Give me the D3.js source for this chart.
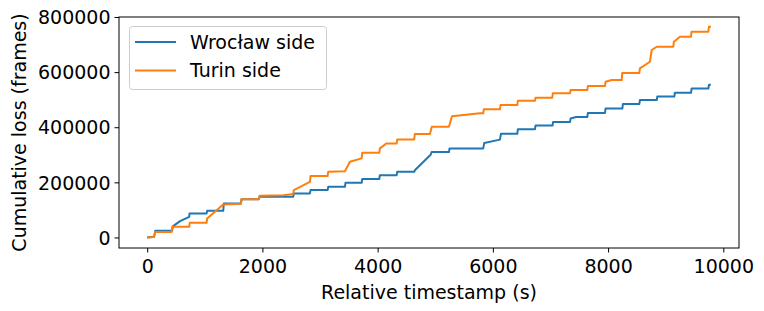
<!DOCTYPE html>
<html>
<head>
<meta charset="utf-8">
<script src="https://cdn.jsdelivr.net/npm/d3@7"></script>
<style>
    body { margin: 0; background: #fff; }
    text { font-family: "DejaVu Sans", sans-serif; fill: #000; }
</style>
</head>
<body>
<svg id="chart" width="764" height="311"></svg>
<script>
"use strict";
// values (vertices of the cumulative curves)
var wroclawT = [0, 120, 140, 430, 450, 571, 729, 735, 1031, 1040, 1320, 1330, 1627, 1637, 1939, 1950,
    2535, 2545, 2825, 2835, 3132, 3142, 3432, 3442, 3722, 3732, 4028, 4038, 4330, 4340, 4635, 4650,
    4920, 4937, 5238, 5248, 5833, 5850, 6123, 6140, 6424, 6434, 6731, 6741, 7035, 7045, 7339, 7350,
    7443, 7639, 7649, 7946, 7956, 8247, 8257, 8542, 8552, 8844, 8854, 9149, 9159, 9439, 9449, 9740,
    9750, 9783];
var wroclawV = [0, 3000, 24000, 24000, 41000, 59200, 74800, 87100, 87100, 96600, 96600, 123500, 123500,
    139000, 139000, 147400, 147400, 159800, 159800, 171800, 171800, 183700, 183700, 198300, 198300,
    211700, 211700, 226200, 226200, 238200, 238200, 245000, 300000, 310000, 310000, 323200, 323200,
    343000, 355000, 376000, 376000, 393000, 393000, 406000, 406000, 419000, 419000, 432000, 437000,
    437000, 452000, 452000, 467700, 467700, 484000, 484000, 498600, 498600, 511300, 511300, 525000,
    525000, 540300, 540300, 553000, 555000];
var turinT = [0, 120, 140, 424, 434, 729, 739, 1031, 1041, 1205, 1320, 1627, 1637, 1939, 1950, 2361, 2535,
    2545, 2825, 2835, 3132, 3142, 3432, 3519, 3722, 3732, 4028, 4040, 4150, 4330, 4340, 4635, 4645,
    4908, 4940, 5238, 5290, 5776, 5833, 5843, 6123, 6133, 6424, 6434, 6731, 6741, 7031, 7041, 7339,
    7349, 7639, 7649, 7946, 7956, 8063, 8236, 8246, 8542, 8552, 8727, 8757, 8844, 9132, 9142, 9248,
    9439, 9449, 9740, 9750, 9786];
var turinV = [0, 2000, 20000, 20000, 38500, 38500, 53000, 53000, 69000, 99100, 119800, 122000, 139000, 139000,
    151000, 153600, 158000, 171800, 201900, 222600, 222600, 238200, 240000, 274500, 286900, 307200,
    307200, 323200, 341000, 341300, 355800, 355800, 375100, 375100, 401600, 401600, 440000, 450300,
    450300, 464800, 464800, 480400, 480400, 496000, 496000, 507000, 507000, 523000, 523000, 534900,
    534900, 549400, 549400, 565000, 571200, 571200, 597000, 597000, 613700, 637700, 680200, 692100,
    692100, 710300, 728500, 728500, 746600, 746600, 764800, 764800];
var seriesNames = ["Wrocław side", "Turin side"];
var seriesColors = ["#1f77b4", "#ff7f0e"];
var xTicks = [0, 2000, 4000, 6000, 8000, 10000];
var yTicks = [0, 200000, 400000, 600000, 800000];

function zipPoints(ts, vs) {
    return ts.map(function (t, i) { return [t, vs[i]]; });
}

var svg = d3.select("#chart");
var plotLeft = 119, plotTop = 17, plotRight = 739, plotBottom = 248;
var tMax = 9783, vMax = 764800;

var x = d3.scaleLinear().domain([-0.05 * tMax, 1.05 * tMax]).range([plotLeft, plotRight]);
var y = d3.scaleLinear().domain([-0.05 * vMax, 800000]).range([plotBottom, plotTop]);

var xAxis = svg.append("g")
    .attr("transform", "translate(0," + plotBottom + ")")
    .call(d3.axisBottom(x).tickValues(xTicks).tickFormat(d3.format("d")).tickSizeOuter(0).tickSize(4.5).tickPadding(4));
var yAxis = svg.append("g")
    .attr("transform", "translate(" + plotLeft + ",0)")
    .call(d3.axisLeft(y).tickValues(yTicks).tickFormat(d3.format("d")).tickSizeOuter(0).tickSize(4.5).tickPadding(4));
[xAxis, yAxis].forEach(function (a) {
    a.select(".domain").remove();
    a.selectAll(".tick line").attr("stroke", "#000").attr("stroke-width", 1);
    a.selectAll(".tick text").style("font-size", "19px").attr("fill", "#000");
});
xAxis.selectAll(".tick text").attr("dy", "0.85em");
yAxis.selectAll(".tick text").attr("dy", "0.35em");

var line = d3.line()
    .x(function (d) { return x(d[0]); })
    .y(function (d) { return y(d[1]); });

var data = [zipPoints(wroclawT, wroclawV), zipPoints(turinT, turinV)];
svg.append("g").selectAll("path").data(data).enter().append("path")
    .attr("d", line)
    .attr("fill", "none")
    .attr("stroke", function (d, i) { return seriesColors[i]; })
    .attr("stroke-width", 2)
    .attr("stroke-linejoin", "round");

svg.append("rect")
    .attr("x", plotLeft).attr("y", plotTop)
    .attr("width", plotRight - plotLeft).attr("height", plotBottom - plotTop)
    .attr("fill", "none").attr("stroke", "#000").attr("stroke-width", 1);

// legend
var legend = svg.append("g");
legend.append("rect")
    .attr("x", 129.5).attr("y", 26.5).attr("width", 197).attr("height", 63).attr("rx", 3)
    .attr("fill", "#fff").attr("fill-opacity", 0.8)
    .attr("stroke", "#ccc").attr("stroke-width", 1);
var items = legend.selectAll("g.item").data(seriesNames).enter().append("g").attr("class", "item")
    .attr("transform", function (d, i) { return "translate(0," + (42 + i * 28.5) + ")"; });
items.append("line")
    .attr("x1", 135).attr("x2", 176).attr("y1", 0).attr("y2", 0)
    .attr("stroke", function (d, i) { return seriesColors[i]; }).attr("stroke-width", 2);
items.append("text")
    .attr("x", 190).attr("y", 0).attr("dy", "0.35em")
    .style("font-size", "19px")
    .text(function (d) { return d; });

svg.append("text")
    .attr("x", (plotLeft + plotRight) / 2).attr("y", 299)
    .attr("text-anchor", "middle").style("font-size", "19px")
    .text("Relative timestamp (s)");
svg.append("text")
    .attr("transform", "translate(26," + ((plotTop + plotBottom) / 2) + ") rotate(-90)")
    .attr("text-anchor", "middle").style("font-size", "19px")
    .text("Cumulative loss (frames)");
</script>
</body>
</html>
